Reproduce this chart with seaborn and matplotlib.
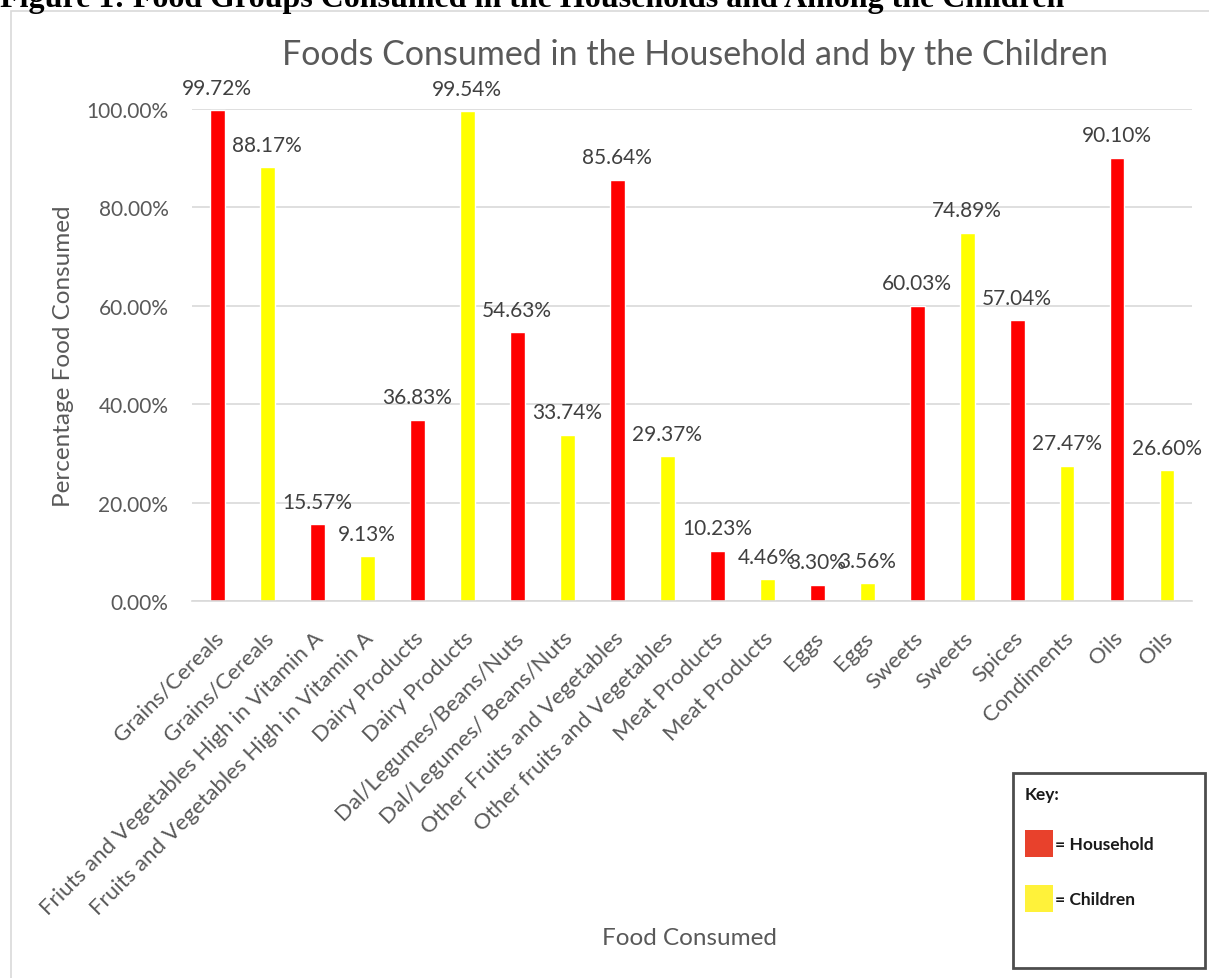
import matplotlib
matplotlib.use("Agg")
import matplotlib.pyplot as plt
import matplotlib.transforms as mtransforms
from matplotlib.patches import Rectangle, Patch
import seaborn as sns
import pandas as pd

# ---------------- data ----------------
categories = [
    "Grains/Cereals", "Grains/Cereals",
    "Friuts and Vegetables High in Vitamin A", "Fruits and Vegetables High in Vitamin A",
    "Dairy Products", "Dairy Products",
    "Dal/Legumes/Beans/Nuts", "Dal/Legumes/ Beans/Nuts",
    "Other Fruits and Vegetables", "Other fruits and Vegetables",
    "Meat Products", "Meat Products",
    "Eggs", "Eggs",
    "Sweets", "Sweets",
    "Spices", "Condiments",
    "Oils", "Oils",
]
groups = ["Household", "Children"] * 10
values = [
    99.72, 88.17,
    15.57, 9.13,
    36.83, 99.54,
    54.63, 33.74,
    85.64, 29.37,
    10.23, 4.46,
    3.30, 3.56,
    60.03, 74.89,
    57.04, 27.47,
    90.10, 26.60,
]
y_ticks = [0, 20, 40, 60, 80, 100]

df = pd.DataFrame({"pos": list(range(len(categories))),
                   "category": categories,
                   "group": groups,
                   "value": values})

# ---------------- style ----------------
sns.set_theme(style="white")
plt.rcParams["font.family"] = ["Lato", "DejaVu Sans"]

W, H = 1209, 979
fig = plt.figure(figsize=(W / 100, H / 100), dpi=100)
ax = fig.add_axes([192 / W, 1 - 602 / H, 1000 / W, 492 / H])

bar_colors = {"Household": "#FF0000", "Children": "#FFFF00"}
sns.barplot(data=df, x="pos", y="value", hue="group", palette=bar_colors,
            dodge=False, width=0.3, legend=False, ax=ax, saturation=1)

ax.set_xlim(-0.5, len(categories) - 0.5)
ax.set_ylim(0, 100)
ax.set_yticks(y_ticks)
ax.set_yticklabels([f"{t:.2f}%" for t in y_ticks], color="#595959", fontsize=15)
ax.yaxis.grid(True, color="#D9D9D9", linewidth=1.2)
ax.set_axisbelow(True)
for s in ["left", "right", "top"]:
    ax.spines[s].set_visible(False)
ax.spines["bottom"].set_color("#D9D9D9")
ax.spines["bottom"].set_linewidth(1.2)
ax.tick_params(axis="both", length=0)
ax.tick_params(axis="y", pad=17)

ax.set_xticks(range(len(categories)))
ax.set_xticklabels(categories, rotation=45, ha="right", va="center",
                   rotation_mode="anchor", color="#595959", fontsize=16)
ax.tick_params(axis="x", pad=24)
offset = mtransforms.ScaledTranslation(3 / 100, 0, fig.dpi_scale_trans)
for lab in ax.get_xticklabels():
    lab.set_transform(lab.get_transform() + offset)

# data labels
for cont in ax.containers:
    ax.bar_label(cont, fmt="%.2f%%", padding=9, color="#404040", fontsize=15)

ax.set_xlabel("Food Consumed", color="#595959", fontsize=17.5)
ax.xaxis.set_label_coords(0.497, -(928 - 602) / 492)
ax.set_ylabel("Percentage Food Consumed", color="#595959", fontsize=17.5)
ax.yaxis.set_label_coords((74 - 192) / 1000, 0.5)

# chart title
fig.text(695 / W, 1 - 65 / H, "Foods Consumed in the Household and by the Children",
         ha="center", va="baseline", fontsize=24.5, color="#595959")

# document caption (cut off at top)
fig.text(0, 1 - 7 / H, "Figure 1: Food Groups Consumed in the Households and Among the Children",
         ha="left", va="baseline", fontsize=23, fontweight="bold",
         family=["Liberation Serif", "DejaVu Serif"], color="black")

# outer chart frame
fig.add_artist(Rectangle((11 / W, -0.02), 1.1, 1 - 12 / H + 0.02, transform=fig.transFigure,
                         fill=False, edgecolor="#D9D9D9", linewidth=1.2))

# key box
fig.add_artist(Rectangle((1013 / W, 1 - 969 / H), 192 / W, 195 / H, transform=fig.transFigure,
                         fill=True, facecolor="white", edgecolor="#4D4D4D", linewidth=2))
handles = [Patch(facecolor="#E8412C", edgecolor="none"),
           Patch(facecolor="#FFF23A", edgecolor="none")]
leg = fig.legend(handles, ["= Household", "= Children"], title="Key:",
                 loc="upper left", bbox_to_anchor=(1025 / W, 1 - 787 / H),
                 frameon=False, alignment="left",
                 prop={"weight": "bold", "size": 12.5},
                 title_fontproperties={"weight": "bold", "size": 12.5},
                 handlelength=1.6, handleheight=2.05, handletextpad=0.15,
                 labelspacing=1.6, borderpad=0, borderaxespad=0)
for t in leg.get_texts():
    t.set_color("#1A1A1A")
leg.get_title().set_color("#1A1A1A")

fig.savefig("out.png", dpi=100)
